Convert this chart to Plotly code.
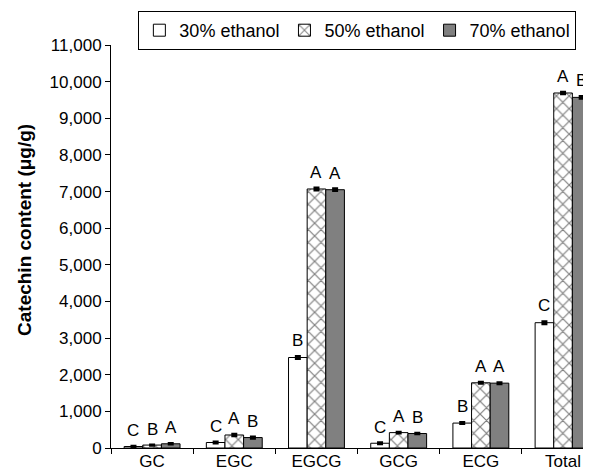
import plotly.graph_objects as go

categories = ["GC", "EGC", "EGCG", "GCG", "ECG", "Total"]
series_names = ["30% ethanol", "50% ethanol", "70% ethanol"]
vals_30 = [40, 150, 2470, 130, 680, 3420]
vals_50 = [80, 355, 7070, 420, 1780, 9690]
vals_70 = [115, 285, 7050, 395, 1770, 9570]
err_30 = [12, 20, 35, 20, 20, 35]
err_50 = [12, 30, 35, 15, 20, 30]
err_70 = [12, 25, 30, 15, 20, 30]
letters_30 = ["C", "C", "B", "C", "B", "C"]
letters_50 = ["B", "A", "A", "A", "A", "A"]
letters_70 = ["A", "B", "A", "B", "A", "B"]
y_ticks = list(range(0, 11001, 1000))
y_title = "<b>Catechin content (μg/g)</b>"

FONT = "Arial, Liberation Sans, sans-serif"
BARGAP = 0.32

fig = go.Figure()

styles = [
    dict(color="white", pattern=None),
    dict(color="white", pattern=dict(shape="x", fgcolor="black", bgcolor="white", size=9, solidity=0.25)),
    dict(color="#808080", pattern=None),
]
datasets = [(vals_30, err_30, letters_30), (vals_50, err_50, letters_50), (vals_70, err_70, letters_70)]

bar_w = (1 - BARGAP) / 3
annotations = []
for k, (name, (vals, errs, letters), st) in enumerate(zip(series_names, datasets, styles)):
    marker = dict(color=st["color"], line=dict(color="black", width=1))
    if st["pattern"]:
        marker["pattern"] = st["pattern"]
    fig.add_trace(go.Bar(
        x=categories, y=vals, name=name, marker=marker,
        error_y=dict(type="data", array=errs, visible=True, color="black", thickness=2.5, width=3),
        cliponaxis=False,
    ))
    for i, (v, e, lt) in enumerate(zip(vals, errs, letters)):
        annotations.append(dict(
            x=i + (k - 1) * bar_w, y=v + e, xref="x", yref="y", text=lt,
            showarrow=False, yanchor="bottom", yshift=4,
            font=dict(family=FONT, size=17, color="black"),
        ))

annotations.append(dict(
    text=y_title, xref="paper", yref="paper", x=-0.18, y=0.54,
    xanchor="center", yanchor="middle", textangle=-90, showarrow=False,
    font=dict(family=FONT, size=19, color="black"),
))

fig.update_layout(
    width=583, height=463,
    margin=dict(l=103, r=0, t=37, b=23, autoexpand=False),
    barmode="group", bargap=BARGAP, bargroupgap=0,
    plot_bgcolor="white", paper_bgcolor="white",
    font=dict(family=FONT, size=17, color="black"),
    showlegend=True,
    annotations=annotations,
    legend=dict(
        orientation="h", x=0.057, y=1.036, xanchor="left", yanchor="middle",
        bordercolor="black", borderwidth=1, bgcolor="white",
        font=dict(family=FONT, size=18, color="black"),
        traceorder="normal",
    ),
    xaxis=dict(
        range=[-0.5, 5.34], showline=True, linecolor="black", linewidth=1,
        ticks="outside", tickson="boundaries", ticklen=5, tickcolor="black",
        tickfont=dict(family=FONT, size=17, color="black"), showgrid=False,
        automargin=False, ticklabelstandoff=-2,
    ),
    yaxis=dict(
        range=[0, 11000], tickvals=y_ticks, tickformat=",", showline=True,
        linecolor="black", linewidth=1, ticks="outside", ticklen=5, tickcolor="black",
        tickfont=dict(family=FONT, size=17, color="black"), showgrid=False, zeroline=False,
        automargin=False,
    ),
)

fig.write_html("out.html")
